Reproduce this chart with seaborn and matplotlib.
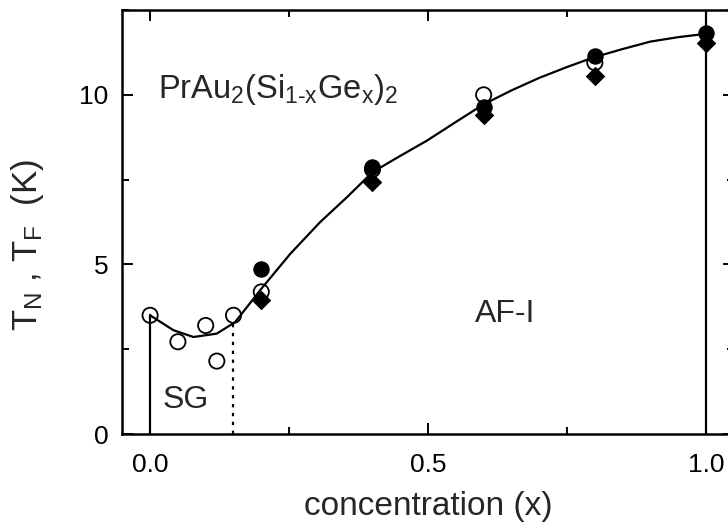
import matplotlib
matplotlib.use("Agg")
import matplotlib.pyplot as plt
import seaborn as sns
import pandas as pd
from matplotlib.ticker import MultipleLocator

# open circles
open_x = [0.0, 0.05, 0.10, 0.12, 0.15, 0.20, 0.40, 0.60, 0.80]
open_y = [3.5, 2.72, 3.2, 2.15, 3.5, 4.19, 7.8, 10.0, 10.95]

# filled circles
filled_x = [0.20, 0.40, 0.60, 0.80, 1.0]
filled_y = [4.87, 7.86, 9.65, 11.15, 11.83]

# filled diamonds
diamond_x = [0.20, 0.40, 0.60, 0.80, 1.0]
diamond_y = [3.95, 7.42, 9.4, 10.56, 11.54]

# guide-to-the-eye curve
curve_x = [0.0, 0.042, 0.078, 0.12, 0.153, 0.20, 0.252, 0.306, 0.354, 0.40,
           0.45, 0.498, 0.55, 0.60, 0.65, 0.70, 0.75, 0.797, 0.85, 0.90, 0.95, 1.0]
curve_y = [3.5, 3.06, 2.86, 2.96, 3.3, 4.28, 5.31, 6.25, 6.98, 7.72,
           8.2, 8.65, 9.2, 9.72, 10.13, 10.5, 10.82, 11.1, 11.35, 11.57, 11.7, 11.8]

sns.set_theme(style="ticks")
plt.rcParams['font.family'] = ['Liberation Sans', 'DejaVu Sans']
plt.rcParams['mathtext.fontset'] = 'custom'
plt.rcParams['mathtext.rm'] = 'Liberation Sans'
plt.rcParams['mathtext.it'] = 'Liberation Sans'

fig = plt.figure(figsize=(7.28, 5.28), dpi=100)
ax = fig.add_axes([0.168, 0.178, 0.84, 0.803])

curve = pd.DataFrame({'x': curve_x, 'y': curve_y})
sns.lineplot(data=curve, x='x', y='y', ax=ax, color='black', lw=1.6, sort=False)

# phase boundaries
ax.plot([0.0, 0.0], [0, 3.5], color='black', lw=1.6)
ax.plot([0.15, 0.15], [0, 3.3], color='black', lw=1.6, ls=(0, (1.5, 2.5)))
ax.plot([1.0, 1.0], [0, 12.5], color='black', lw=1.6)

sns.scatterplot(x=open_x, y=open_y, ax=ax, marker='o', s=120,
                facecolor='none', edgecolor='black', linewidth=1.3, zorder=3)
sns.scatterplot(x=filled_x, y=filled_y, ax=ax, marker='o', s=120,
                color='black', edgecolor='black', zorder=4)
sns.scatterplot(x=diamond_x, y=diamond_y, ax=ax, marker='D', s=85,
                color='black', edgecolor='black', zorder=4)

ax.set_xlim(-0.05, 1.05)
ax.set_ylim(0, 12.5)
ax.xaxis.set_minor_locator(MultipleLocator(0.25))
ax.yaxis.set_major_locator(MultipleLocator(5))
ax.yaxis.set_minor_locator(MultipleLocator(2.5))
ax.set_xticks([0.0, 0.5, 1.0])
ax.set_xticklabels(['0.0', '0.5', '1.0'])
ax.tick_params(which='both', direction='in', top=True, right=True, width=1.4, colors='black')
ax.tick_params(which='major', length=8, labelsize=19)
ax.tick_params(axis='x', which='major', pad=14)
ax.tick_params(axis='y', which='major', pad=10)
ax.tick_params(which='minor', length=5)
for sp in ax.spines.values():
    sp.set_linewidth(1.8)
    sp.set_color('black')

ax.set_xlabel('concentration (x)', fontsize=24, labelpad=10)
ax.set_ylabel(r'T$_{\rm N}$ , T$_{\rm F}$  (K)', fontsize=25)
ax.yaxis.set_label_coords(-0.125, 0.445)

ax.text(0.015, 9.9, r'PrAu$_2$(Si$_{\text{1-x}}$Ge$_{\text{x}}$)$_2$', fontsize=23.5,
        va='baseline', ha='left')
ax.text(0.022, 1.0, 'SG', fontsize=23, va='center', ha='left')
ax.text(0.585, 3.55, 'AF-I', fontsize=23, va='center', ha='left')

fig.savefig('out.png', dpi=100)
